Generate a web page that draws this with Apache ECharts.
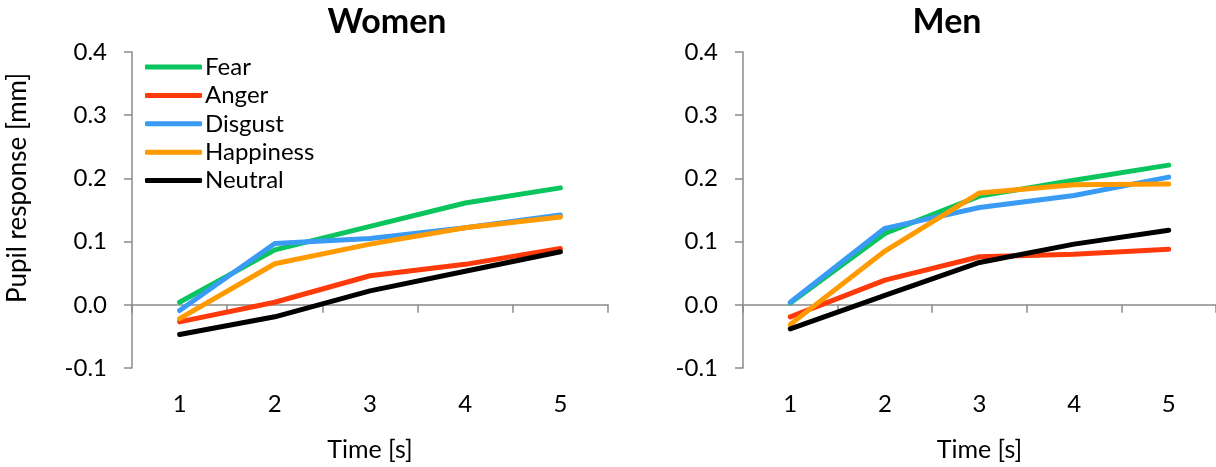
<!DOCTYPE html>
<html>
<head>
<meta charset="utf-8">
<script src="https://cdn.jsdelivr.net/npm/echarts@6/dist/echarts.min.js"></script>
<style>
html,body{margin:0;padding:0;background:#fff;}
#c{width:1216px;height:467px;}
</style>
</head>
<body>
<div id="c"></div>
<script>
// ---- data ----
const categories = ['1', '2', '3', '4', '5'];
const seriesNames = ['Fear', 'Anger', 'Disgust', 'Happiness', 'Neutral'];
const seriesColors = ['#0AC45E', '#FF3A0A', '#3A9BF5', '#FF9A00', '#000000'];

const womenFear      = [0.004, 0.087, 0.124, 0.161, 0.185];
const womenAnger     = [-0.027, 0.004, 0.046, 0.064, 0.089];
const womenDisgust   = [-0.009, 0.097, 0.105, 0.122, 0.142];
const womenHappiness = [-0.022, 0.065, 0.096, 0.122, 0.139];
const womenNeutral   = [-0.047, -0.019, 0.022, 0.053, 0.084];

const menFear      = [0.003, 0.113, 0.172, 0.197, 0.221];
const menAnger     = [-0.019, 0.039, 0.076, 0.080, 0.088];
const menDisgust   = [0.004, 0.121, 0.154, 0.173, 0.202];
const menHappiness = [-0.031, 0.085, 0.177, 0.190, 0.191];
const menNeutral   = [-0.038, 0.015, 0.067, 0.096, 0.118];

const yMin = -0.1, yMax = 0.4, yStep = 0.1;
const panelTitles = ['Women', 'Men'];
const xAxisName = 'Time [s]';
const yAxisName = 'Pupil response [mm]';

// ---- chart ----
const FONT = 'Lato';
const AXIS_COLOR = '#8a8a8a';
const womenData = [womenFear, womenAnger, womenDisgust, womenHappiness, womenNeutral];
const menData = [menFear, menAnger, menDisgust, menHappiness, menNeutral];

function labelAxis(gridIndex) {
  return {
    gridIndex: gridIndex, type: 'category', data: categories, position: 'bottom',
    axisLine: { show: false, onZero: false }, axisTick: { show: false },
    axisLabel: { margin: 24, fontSize: 24, fontFamily: FONT, color: '#000' },
    name: xAxisName, nameLocation: 'middle', nameGap: 69,
    nameTextStyle: { fontSize: 25, fontFamily: FONT, color: '#000' }
  };
}
function zeroAxis(gridIndex) {
  return {
    gridIndex: gridIndex, type: 'category', data: categories, position: 'bottom',
    axisLine: { show: true, onZero: true, lineStyle: { color: AXIS_COLOR, width: 1.5 } },
    axisTick: { show: true, length: 8, lineStyle: { color: AXIS_COLOR, width: 1.5 } },
    axisLabel: { show: false }
  };
}
function yAxis(gridIndex) {
  return {
    gridIndex: gridIndex, type: 'value', min: yMin, max: yMax, interval: yStep,
    splitLine: { show: false },
    axisLine: { show: true, lineStyle: { color: AXIS_COLOR, width: 1.5 } },
    axisTick: { show: true, length: 8, lineStyle: { color: AXIS_COLOR, width: 1.5 } },
    axisLabel: { margin: 25, fontSize: 24, fontFamily: FONT, color: '#000',
      formatter: v => (Math.round(v * 10) / 10).toFixed(1) }
  };
}
function mkSeries(dataSet, xIdx, yIdx) {
  return seriesNames.map((n, i) => ({
    name: n, type: 'line', xAxisIndex: xIdx, yAxisIndex: yIdx,
    data: dataSet[i], symbol: 'none', showSymbol: false,
    lineStyle: { color: seriesColors[i], width: 5, cap: 'round', join: 'round' },
    itemStyle: { color: seriesColors[i] },
    emphasis: { disabled: true }
  }));
}

const option = {
  animation: false,
  backgroundColor: '#fff',
  grid: [
    { left: 132, right: 608, top: 52, bottom: 96 },
    { left: 743, right: -4, top: 52, bottom: 96 }
  ],
  xAxis: [labelAxis(0), zeroAxis(0), labelAxis(1), zeroAxis(1)],
  yAxis: [yAxis(0), yAxis(1)],
  legend: {
    data: seriesNames, orient: 'vertical', left: 145, top: 55, padding: 0,
    itemWidth: 57, itemHeight: 5, itemGap: 4.4, icon: 'roundRect',
    textStyle: { fontSize: 24, fontFamily: FONT, color: '#000', padding: [0, 0, 0, -2] }
  },
  graphic: [
    { type: 'text', x: 387, y: 22, style: { text: panelTitles[0], fontSize: 34, fontWeight: 'bold', fontFamily: FONT, fill: '#000', align: 'center', verticalAlign: 'middle' } },
    { type: 'text', x: 947, y: 22, style: { text: panelTitles[1], fontSize: 34, fontWeight: 'bold', fontFamily: FONT, fill: '#000', align: 'center', verticalAlign: 'middle' } },
    { type: 'text', x: 18, y: 188, rotation: Math.PI / 2, style: { text: yAxisName, fontSize: 26, fontFamily: FONT, fill: '#000', align: 'center', verticalAlign: 'middle' } }
  ],
  series: mkSeries(womenData, 0, 0).concat(mkSeries(menData, 2, 1))
};

const chart = echarts.init(document.getElementById('c'), null, { renderer: 'canvas' });
chart.setOption(option);
</script>
</body>
</html>
